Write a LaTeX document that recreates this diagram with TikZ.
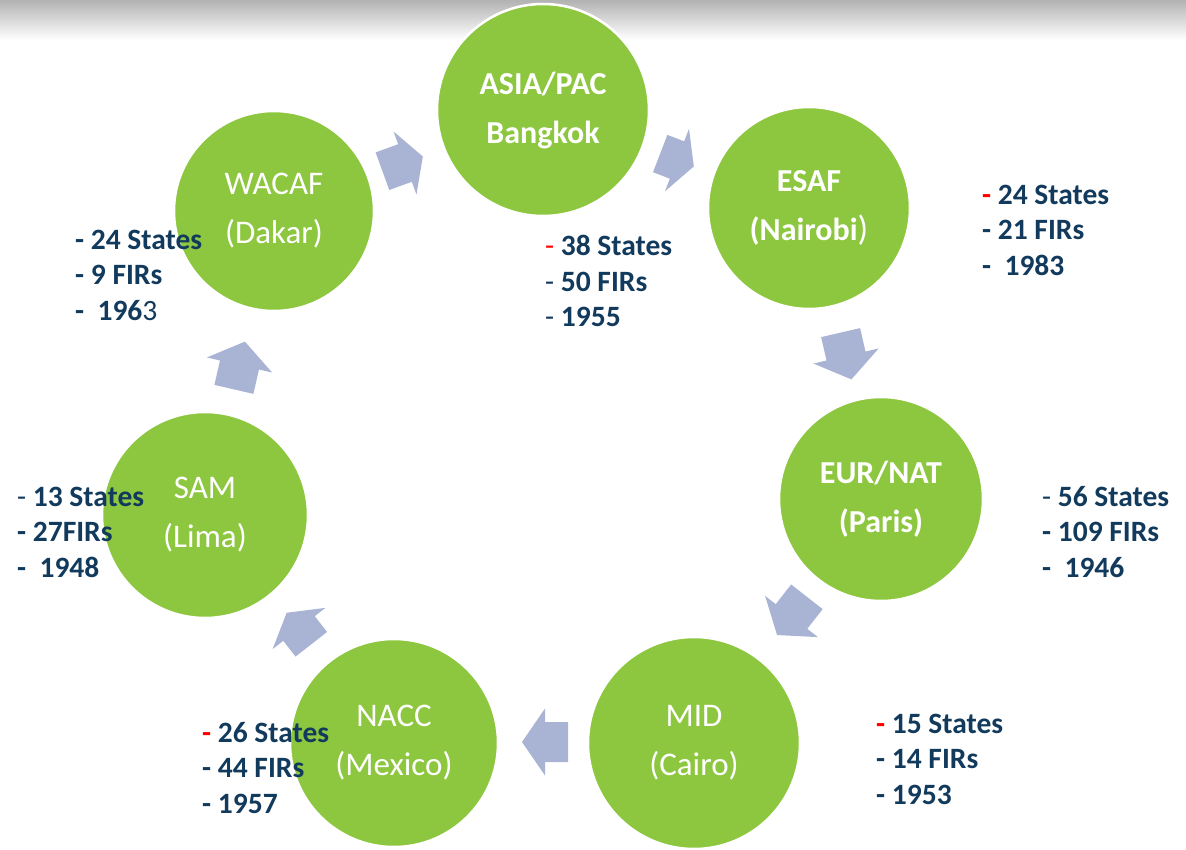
\documentclass[tikz,border=0pt]{standalone}
\usepackage{fontspec}
\setmainfont{Carlito}
\definecolor{leaf}{RGB}{141,198,63}
\definecolor{arrowblue}{RGB}{169,180,212}
\definecolor{navy}{RGB}{18,58,92}
\definecolor{dashred}{RGB}{255,0,0}
\newcommand\blockarrow[4]{\fill[blockarrow, shift={(#1)}, rotate=#2] (-#3,-20) -- (0,-20) -- (0,-33.5) -- (#4,0) -- (0,33.5) -- (0,20) -- (-#3,20) -- cycle;}
\newcommand\rd{\textcolor{dashred}{-}}
\newcommand\thin{{\mdseries -}}
\begin{document}
\begin{tikzpicture}[x=1pt,y=-1pt,
  region/.style={circle, fill=leaf, draw=white, line width=2.5pt, inner sep=0pt,
    text=white, align=center, font=\fontsize{33}{49}\selectfont},
  boldregion/.style={region, font=\fontsize{32}{49}\selectfont\bfseries},
  facts/.style={anchor=west, inner sep=0pt, text=navy, align=left,
    font=\fontsize{29.5}{35.5}\selectfont\bfseries},
  blockarrow/.style={fill=arrowblue}]
\useasboundingbox (0,0) rectangle (1186,850);
\shade[top color=black!30, bottom color=white] (0,0) rectangle (1186,40);

% arrow positions
\coordinate (a1) at (405,163);
\coordinate (a2) at (677,160);
\coordinate (a3) at (846,356);
\coordinate (a4) at (791.5,616.5);
\coordinate (a5) at (545,742);
\coordinate (a6) at (299,628.5);
\coordinate (a7) at (239.5,365);
\blockarrow{a1}{20}{24}{19}
\blockarrow{a2}{-21}{18}{18}
\blockarrow{a3}{-77}{24}{24}
\blockarrow{a4}{-128}{25}{23.5}
\blockarrow{a5}{180}{23}{23}
\blockarrow{a6}{-232}{20}{20}
\blockarrow{a7}{77}{25}{24}

% regions
\node[boldregion, minimum size=212pt] (asia) at (543,110) {ASIA/PAC\\Bangkok};
\node[boldregion, minimum size=202pt] (esaf) at (809,208) {ESAF\\(Nairobi{\mdseries\fontsize{35}{49}\selectfont)}};
\node[boldregion, minimum size=204pt] (eur) at (881,499) {EUR/NAT\\(Paris)};
\node[region, minimum size=212pt] (mid) at (694,743) {MID\\(Cairo)};
\node[region, minimum size=208pt] (nacc) at (394,743) {NACC\\(Mexico)};
\node[region, minimum size=206pt] (sam) at (205,515) {SAM\\(Lima)};
\node[region, minimum size=200pt] (wacaf) at (274,211) {WACAF\\(Dakar)};

% facts
\node[facts] (fwacaf) at (75,275) {- 24 States\\- 9 FIRs\\-\ \ 196\textmd{3}};
\node[facts] (fasia) at (545,281) {\textmd{\rd} 38 States\\\thin\ 50 FIRs\\\thin\ 1955};
\node[facts] (fesaf) at (982,230) {\rd\ 24 States\\- 21 FIRs\\-\ \ 1983};
\node[facts] (feur) at (1042,532) {\thin\ 56 States\\- 109 FIRs\\-\ \ 1946};
\node[facts] (fmid) at (876,759) {\rd\ 15 States\\- 14 FIRs\\- 1953};
\node[facts] (fnacc) at (202,768) {\rd\ 26 States\\- 44 FIRs\\- 1957};
\node[facts] (fsam) at (17,532) {\thin\ 13 States\\- 27FIRs\\-\ \ 1948};
\end{tikzpicture}
\end{document}
